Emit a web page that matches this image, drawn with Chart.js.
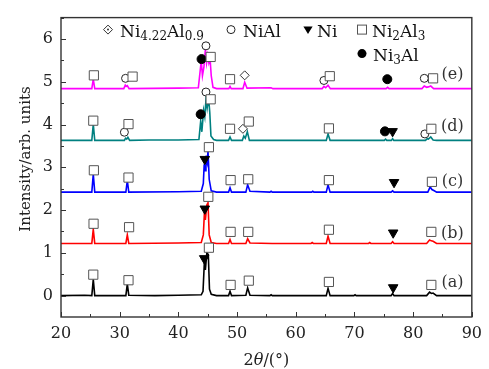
<!DOCTYPE html>
<html>
<head>
<meta charset="utf-8">
<script src="https://cdn.jsdelivr.net/npm/chart.js@4.4.0/dist/chart.umd.min.js"></script>
<style>
  html, body { margin: 0; padding: 0; background: #fff; }
  canvas { display: block; }
</style>
</head>
<body>
<canvas id="xrd" width="489" height="369"></canvas>
<script>
// tick values
const xTicks = [20, 30, 40, 50, 60, 70, 80, 90];
const yTicks = [0, 1, 2, 3, 4, 5, 6];

// patterns (2theta, intensity above own baseline)
const patternA = [[20,0],[24,0.01],[25.25,0],[25.5,0.38],[25.75,0],[31.05,0],[31.3,0.27],[31.55,0.01],[36,0],[40,0.01],[43.9,0.02],[44.2,0.1],[44.45,0.85],[44.6,0.6],[44.85,1.0],[45.1,0.96],[45.3,0.15],[45.6,0.03],[46.5,0],[48.55,0],[48.8,0.1],[49.05,0],[51.5,0.01],[51.8,0.18],[52.2,0.01],[55.6,0],[55.8,0.02],[56,0],[65.2,0],[65.5,0.17],[65.85,0],[69.9,0],[70.1,0.02],[70.3,0],[76.25,0],[76.5,0.05],[76.75,0],[82.3,0],[82.8,0.08],[83.1,0.05],[83.4,0.06],[84,0],[90,0]];
const patternB = [[20,0],[25.25,0],[25.5,0.33],[25.75,0],[31.05,0],[31.3,0.2],[31.55,0],[40,0.01],[43.9,0.02],[44.25,0.2],[44.45,0.75],[44.6,0.55],[44.85,0.9],[45.05,0.95],[45.25,0.2],[45.6,0.02],[46.5,0],[48.55,0],[48.8,0.09],[49.05,0],[51.5,0],[51.8,0.11],[52.2,0.01],[56,0],[62.6,0],[62.8,0.02],[63,0],[65.2,0],[65.5,0.17],[65.85,0],[72.4,0],[72.6,0.02],[72.8,0],[76.25,0],[76.5,0.04],[76.75,0],[82.3,0],[82.8,0.08],[83.1,0.06],[83.4,0.05],[84,0],[90,0]];
const patternC = [[20,0],[25.25,0],[25.5,0.42],[25.75,0],[31.05,0],[31.3,0.27],[31.55,0],[40,0.01],[43.9,0.02],[44.25,0.2],[44.4,0.65],[44.55,0.5],[44.7,0.85],[44.9,0.7],[45.05,0.96],[45.25,0.3],[45.6,0.03],[46.5,0],[48.55,0],[48.8,0.1],[49.05,0],[51.5,0],[51.8,0.17],[52.2,0.02],[55.6,0],[55.8,0.02],[56,0],[62.7,0],[62.9,0.02],[63.1,0],[65.2,0],[65.5,0.17],[65.85,0],[76.25,0],[76.5,0.03],[76.75,0],[82.5,0],[82.9,0.12],[83.2,0.06],[83.6,0.03],[84,0],[90,0]];
const patternD = [[20,0],[25.25,0],[25.5,0.38],[25.75,0],[30.8,0],[31.0,0.05],[31.2,0.03],[31.4,0.07],[31.7,0],[35,0.01],[40,0.01],[43.5,0.02],[43.8,0.45],[44.0,0.2],[44.3,0.7],[44.5,0.55],[44.7,0.95],[44.9,0.75],[45.15,1.0],[45.35,0.65],[45.55,0.1],[46,0.02],[46.5,0],[48.55,0],[48.8,0.08],[49.05,0],[50.9,0],[51.15,0.1],[51.4,0.05],[51.75,0.2],[52.1,0],[65.2,0],[65.5,0.15],[65.85,0],[75.1,0],[75.3,0.03],[75.5,0],[76.3,0],[76.5,0.04],[76.7,0],[82.1,0],[82.4,0.04],[82.6,0.03],[83.0,0.08],[83.4,0.01],[84,0],[90,0]];
const patternE = [[20,0],[25.25,0],[25.5,0.22],[25.75,0],[30.7,0],[30.95,0.08],[31.1,0.05],[31.3,0.07],[31.6,0],[40,0.01],[43.4,0.02],[43.7,0.4],[43.9,0.65],[44.1,0.3],[44.35,0.5],[44.6,0.92],[44.8,0.6],[45.0,0.78],[45.2,0.6],[45.4,0.7],[45.6,0.3],[45.9,0.03],[46.5,0],[48.6,0],[48.8,0.05],[49,0],[51.0,0],[51.3,0.15],[51.7,0.01],[55.8,0.02],[56.1,0],[64.5,0],[64.8,0.05],[65.1,0.02],[65.5,0.08],[65.9,0],[75.4,0],[75.65,0.03],[75.9,0],[81.5,0],[81.9,0.06],[82.3,0.03],[82.6,0.04],[83.0,0.06],[83.5,0],[90,0]];

const patterns = [patternA, patternB, patternC, patternD, patternE];
const offsets = [0, 1.22, 2.42, 3.63, 4.84];
const sampleLabels = ['(a)', '(b)', '(c)', '(d)', '(e)'];
const sampleLabelY = [0.30, 1.44, 2.66, 3.94, 5.16];
const sampleLabelX = 86.7;
const colors = ['#000000', '#ff0000', '#0000ff', '#008080', '#ff00ff'];

// phase markers (2theta, y)
const ni2al3 = [[25.6,5.15],[32.2,5.12],[45.5,5.58],[48.8,5.06],[65.8,5.13],[83.4,5.08],
  [25.5,4.09],[31.5,4.01],[45.5,4.59],[48.8,3.90],[52.0,4.07],[65.65,3.91],[83.1,3.90],
  [25.6,2.93],[31.5,2.76],[45.2,3.47],[48.9,2.70],[51.9,2.72],[65.65,2.70],[83.2,2.66],
  [25.55,1.68],[31.6,1.60],[45.1,2.31],[48.9,1.49],[51.9,1.49],[65.65,1.54],[83.1,1.49],
  [25.5,0.49],[31.5,0.36],[45.2,1.12],[48.9,0.25],[52.0,0.35],[65.65,0.32],[83.1,0.25]];
const nial = [[31.0,5.08],[44.7,5.84],[64.8,5.03],[81.9,5.08],[30.8,3.82],[44.7,4.76],[82.0,3.78]];
const ni3al = [[43.95,5.53],[75.6,5.06],[43.8,4.24],[75.2,3.84]];
const ni = [[76.5,3.84],[44.5,3.19],[76.75,2.65],[44.5,2.03],[76.6,1.47],[44.4,0.87],[76.6,0.19]];
const ni422al09 = [[51.3,5.15],[51.0,3.90]];

const FONT = '"DejaVu Serif", "Liberation Serif", serif';
const pts = arr => arr.map(p => ({x: p[0], y: p[1]}));

const datasets = patterns.map((p, i) => ({
  data: p.map(q => ({x: q[0], y: q[1] + offsets[i]})),
  showLine: true, borderColor: colors[i], borderWidth: 1.6,
  pointRadius: 0, tension: 0, order: 2
}));
const mk = (data, style, r, bg, fg, rot) => ({
  data: pts(data), showLine: false, pointStyle: style, pointRadius: r,
  pointRotation: rot || 0, pointBackgroundColor: bg, pointBorderColor: fg,
  pointBorderWidth: 1, order: 1
});
datasets.push(mk(ni2al3, 'rect', 6.5, '#fff', '#555'));
datasets.push(mk(nial, 'circle', 4, '#fff', '#222'));
datasets.push(mk(ni3al, 'circle', 4.5, '#000', '#000'));
datasets.push(mk(ni, 'triangle', 5.5, '#000', '#000', 180));
datasets.push(mk(ni422al09, 'rectRot', 4.5, '#fff', '#333'));
datasets.push(mk(ni422al09, 'circle', 1, '#333', '#333'));

function rich(ctx, x, y, parts, size) {
  parts.forEach(([t, sub]) => {
    ctx.font = (sub ? Math.round(size * 0.7) : size) + 'px ' + FONT;
    ctx.fillText(t, x, sub ? y + size * 0.22 : y);
    x += ctx.measureText(t).width;
  });
}

function sym(ctx, kind, x, y) {
  ctx.save();
  ctx.lineWidth = 1;
  ctx.beginPath();
  if (kind === 'diamond') {
    ctx.strokeStyle = '#333';
    ctx.moveTo(x - 4.5, y); ctx.lineTo(x, y - 4.5); ctx.lineTo(x + 4.5, y); ctx.lineTo(x, y + 4.5); ctx.closePath();
    ctx.stroke();
    ctx.beginPath(); ctx.fillStyle = '#333'; ctx.arc(x, y, 1, 0, Math.PI * 2); ctx.fill();
  } else if (kind === 'circle') {
    ctx.strokeStyle = '#222'; ctx.arc(x, y, 4, 0, Math.PI * 2); ctx.stroke();
  } else if (kind === 'dot') {
    ctx.fillStyle = '#000'; ctx.arc(x, y, 4.5, 0, Math.PI * 2); ctx.fill();
  } else if (kind === 'tri') {
    ctx.fillStyle = '#000';
    ctx.moveTo(x - 4.6, y - 3); ctx.lineTo(x + 4.6, y - 3); ctx.lineTo(x, y + 4.5); ctx.closePath(); ctx.fill();
  } else if (kind === 'square') {
    ctx.strokeStyle = '#555'; ctx.strokeRect(x - 4.5, y - 4.5, 9, 9);
  }
  ctx.restore();
}

const deco = {
  id: 'deco',
  afterDatasetsDraw(chart) {
    const {ctx, chartArea: a, scales: {x, y}} = chart;
    ctx.save();
    // ticks, inward
    ctx.strokeStyle = '#333';
    ctx.lineWidth = 1;
    ctx.beginPath();
    for (let v = 20; v <= 90; v += 5) {
      const px = Math.round(x.getPixelForValue(v)) + 0.5;
      const len = v % 10 === 0 ? 5 : 3;
      ctx.moveTo(px, a.bottom); ctx.lineTo(px, a.bottom - len);
    }
    for (let v = 0; v <= 6.5; v += 0.5) {
      const py = Math.round(y.getPixelForValue(v)) + 0.5;
      const len = v % 1 === 0 ? 5 : 3;
      ctx.moveTo(a.left, py); ctx.lineTo(a.left + len, py);
    }
    ctx.stroke();
    // frame
    ctx.lineWidth = 1.4;
    ctx.strokeRect(a.left, a.top, a.right - a.left, a.bottom - a.top);

    // sample labels
    ctx.fillStyle = '#333';
    ctx.font = '16px ' + FONT;
    ctx.textAlign = 'center';
    ctx.textBaseline = 'middle';
    sampleLabels.forEach((t, i) => {
      ctx.fillText(t, x.getPixelForValue(sampleLabelX), y.getPixelForValue(sampleLabelY[i]));
    });

    // legend
    ctx.textAlign = 'left';
    ctx.textBaseline = 'alphabetic';
    ctx.fillStyle = '#111';
    const ly = a.top + 19, ly2 = a.top + 43;
    sym(ctx, 'diamond', a.left + 47, a.top + 12);
    rich(ctx, a.left + 59, ly, [['Ni'], ['4.22', 1], ['Al'], ['0.9', 1]], 17);
    sym(ctx, 'circle', a.left + 170, a.top + 12);
    rich(ctx, a.left + 182, ly, [['NiAl']], 17);
    sym(ctx, 'tri', a.left + 247, a.top + 12);
    rich(ctx, a.left + 256, ly, [['Ni']], 17);
    sym(ctx, 'square', a.left + 301, a.top + 12);
    rich(ctx, a.left + 311, ly, [['Ni'], ['2', 1], ['Al'], ['3', 1]], 17);
    sym(ctx, 'dot', a.left + 301, a.top + 36);
    rich(ctx, a.left + 312, ly2, [['Ni'], ['3', 1], ['Al']], 17);

    // axis titles
    ctx.fillStyle = '#222';
    ctx.font = '15px ' + FONT;
    ctx.save();
    ctx.translate(26, 159);
    ctx.rotate(-Math.PI / 2);
    ctx.textAlign = 'center';
    ctx.textBaseline = 'middle';
    ctx.fillText('Intensity/arb. units', 0, 0);
    ctx.restore();

    const parts = [['2', ''], ['\u03b8', 'italic '], ['/(\u00b0)', '']];
    let w = 0;
    parts.forEach(([t, s]) => { ctx.font = s + '16px ' + FONT; w += ctx.measureText(t).width; });
    let tx = (a.left + a.right) / 2 - w / 2;
    ctx.textAlign = 'left';
    ctx.textBaseline = 'alphabetic';
    parts.forEach(([t, s]) => { ctx.font = s + '16px ' + FONT; ctx.fillText(t, tx, 365); tx += ctx.measureText(t).width; });
    ctx.restore();
  }
};

new Chart(document.getElementById('xrd'), {
  type: 'scatter',
  data: { datasets },
  options: {
    responsive: false,
    animation: false,
    layout: { padding: { left: 0, top: 14, right: 12, bottom: 0 } },
    plugins: { legend: { display: false }, tooltip: { enabled: false } },
    scales: {
      x: {
        type: 'linear', min: 20, max: 90,
        grid: { display: false, drawTicks: false },
        border: { display: false },
        ticks: { padding: 7, color: '#222', font: { family: FONT, size: 16 } },
        afterBuildTicks: s => { s.ticks = xTicks.map(v => ({ value: v })); },
        afterFit: s => { s.height = 52; }
      },
      y: {
        type: 'linear', min: -0.5, max: 6.5,
        grid: { display: false, drawTicks: false },
        border: { display: false },
        ticks: { padding: 8, color: '#222', font: { family: FONT, size: 16 } },
        afterBuildTicks: s => { s.ticks = yTicks.map(v => ({ value: v })); },
        afterFit: s => { s.width = 61; }
      }
    }
  },
  plugins: [deco]
});
</script>
</body>
</html>
